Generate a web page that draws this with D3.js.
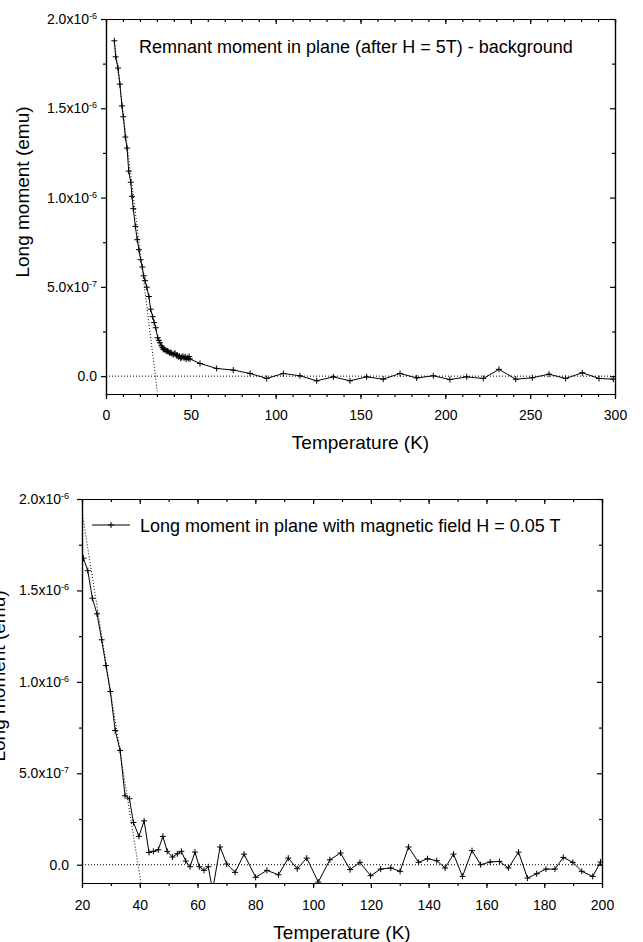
<!DOCTYPE html>
<html>
<head>
<meta charset="utf-8">
<script src="https://cdn.jsdelivr.net/npm/d3@7"></script>
<style>
  body { margin: 0; background: #fff; }
  text { font-family: "Liberation Sans", Arial, sans-serif; }
</style>
</head>
<body>
<div id="chart"></div>
<script>
// moments are in units of 1e-6 emu
const topTemp = [4.9, 5.7, 7.1, 8.2, 9.4, 10.2, 11.4, 12.4, 13.4, 14.6, 15.3, 16.1, 17.3, 18.4, 19.4,
    20.4, 21.4, 22.2, 23.0, 24.0, 25.3, 26.3, 27.5, 28.4, 29.3, 30.5, 31.2, 31.8, 32.6, 33.3, 33.8,
    34.3, 34.8, 35.5, 36.2, 36.7, 37.5, 38.2, 38.7, 39.5, 40.2, 40.7, 41.5, 42.0, 42.6, 43.3, 44.0,
    44.6, 45.3, 46.0, 46.6, 47.2, 47.8, 48.5, 49.0, 49.5, 55.4, 65.2, 75.0, 84.9, 94.7, 104.5, 114.3,
    124.2, 134.0, 143.8, 153.6, 163.4, 173.3, 183.1, 192.9, 202.7, 212.6, 222.4, 231.6, 241.5, 251.3,
    261.1, 270.9, 280.7, 290.6, 299.0];
const topMoment = [1.878, 1.788, 1.725, 1.635, 1.513, 1.453, 1.339, 1.277, 1.148, 1.086, 1.007, 0.938,
    0.839, 0.764, 0.708, 0.652, 0.611, 0.562, 0.535, 0.498, 0.446, 0.375, 0.333, 0.300, 0.271, 0.215,
    0.200, 0.187, 0.170, 0.160, 0.150, 0.152, 0.146, 0.140, 0.142, 0.137, 0.130, 0.133, 0.128, 0.120,
    0.125, 0.128, 0.115, 0.118, 0.108, 0.112, 0.100, 0.105, 0.112, 0.102, 0.108, 0.095, 0.104, 0.099,
    0.110, 0.096, 0.071, 0.043, 0.034, 0.015, -0.013, 0.015, 0.002, -0.026, -0.004, -0.026, -0.004,
    -0.017, 0.015, -0.010, 0.002, -0.019, -0.004, -0.013, 0.038, -0.017, -0.009, 0.011, -0.013, 0.019,
    -0.013, -0.017];
const topFit = [[5.0, 1.87], [30.2, -0.085]];

const botTemp = [20.5, 22.0, 23.6, 25.2, 26.8, 28.3, 29.8, 31.5, 33.2, 34.9, 36.4, 37.8, 39.7, 41.5,
    43.2, 44.7, 46.4, 48.0, 49.5, 51.3, 53.0, 54.4, 55.9, 57.4, 59.1, 60.6, 62.2, 63.7, 65.2, 67.8,
    70.1, 73.0, 76.1, 80.1, 84.0, 88.0, 91.4, 94.5, 97.8, 101.8, 105.8, 109.5, 112.8, 116.2, 119.9,
    123.4, 126.9, 130.1, 133.0, 136.5, 139.6, 142.8, 145.7, 148.6, 151.7, 155.0, 158.0, 161.3, 164.5,
    167.6, 171.1, 174.2, 177.4, 180.6, 183.7, 186.6, 189.9, 193.0, 196.8, 199.5];
const botMoment = [1.676, 1.608, 1.457, 1.372, 1.230, 1.089, 0.947, 0.734, 0.625, 0.377, 0.361, 0.231,
    0.155, 0.240, 0.067, 0.073, 0.082, 0.155, 0.073, 0.042, 0.060, 0.073, 0.020, -0.011, 0.069, -0.011,
    -0.031, -0.011, -0.140, 0.097, 0.004, -0.042, 0.058, -0.069, -0.031, -0.055, 0.036, -0.022, 0.036,
    -0.095, 0.027, 0.064, -0.027, 0.013, -0.060, -0.024, -0.018, -0.036, 0.097, 0.013, 0.033, 0.022,
    -0.018, 0.058, -0.064, 0.077, 0.000, 0.015, 0.018, -0.018, 0.069, -0.073, -0.049, -0.024, -0.024,
    0.040, 0.013, -0.036, -0.064, 0.015];
const botFit = [[20.0, 1.93], [40.4, -0.10]];

const yTicks = [0, 0.5, 1.0, 1.5, 2.0];
const yMinor = [0.25, 0.75, 1.25, 1.75];
const topXTicks = [0, 50, 100, 150, 200, 250, 300];
const botXTicks = [20, 40, 60, 80, 100, 120, 140, 160, 180, 200];

const W = 643, H = 942;
const svg = d3.select("#chart").append("svg").attr("width", W).attr("height", H);

function yLabel(sel, v) {
    sel.text(null);
    if (v === 0) { sel.text("0.0"); return; }
    const exp = v < 1 ? -7 : -6;
    const mant = v < 1 ? v * 10 : v;
    sel.append("tspan").text(mant.toFixed(1) + "x10");
    sel.append("tspan").attr("font-size", 9).attr("dy", "-0.55em").text(exp);
}

function styleAxis(g) {
    g.attr("font-size", 14).attr("font-family", '"Liberation Sans", Arial, sans-serif');
    g.selectAll("line").attr("stroke", "#000").attr("stroke-width", 1.2);
    g.select(".domain").attr("stroke", "#000").attr("stroke-width", 1.2);
    g.selectAll("text").attr("fill", "#000");
}

function drawPanel(p) {
    const x = d3.scaleLinear().domain(p.xDomain).range([p.left, p.right]);
    const y = d3.scaleLinear().domain([-0.1, 2.0]).range([p.bottom, p.top]);
    const g = svg.append("g");

    g.append("clipPath").attr("id", p.id).append("rect")
        .attr("x", p.left).attr("y", p.top)
        .attr("width", p.right - p.left).attr("height", p.bottom - p.top);
    const plot = g.append("g").attr("clip-path", `url(#${p.id})`);

    // zero line
    plot.append("line")
        .attr("x1", x(p.xDomain[0])).attr("x2", x(p.xDomain[1]))
        .attr("y1", y(0)).attr("y2", y(0))
        .attr("stroke", "#000").attr("stroke-width", 1).attr("stroke-dasharray", "1,2");

    // linear extrapolation
    plot.append("path")
        .datum(p.fit)
        .attr("fill", "none").attr("stroke", "#000").attr("stroke-width", 1)
        .attr("stroke-dasharray", "1,2")
        .attr("d", d3.line().x(d => x(d[0])).y(d => y(d[1])));

    const pts = p.temp.map((t, i) => [t, p.moment[i]]);
    plot.append("path")
        .datum(pts)
        .attr("fill", "none").attr("stroke", "#000").attr("stroke-width", 1)
        .attr("d", d3.line().x(d => x(d[0])).y(d => y(d[1])));

    plot.selectAll(".mk")
        .data(pts)
        .enter()
        .append("path")
        .attr("class", "mk")
        .attr("transform", d => `translate(${x(d[0])},${y(d[1])})`)
        .attr("d", "M-3,0H3M0,-3V3")
        .attr("stroke", "#000").attr("stroke-width", 1);

    // axes
    const xMinor = d3.range(p.xDomain[0], p.xDomain[1] + 1, 10);

    g.append("g").attr("transform", `translate(0,${p.bottom})`)
        .call(d3.axisBottom(x).tickValues(xMinor).tickSize(3).tickSizeOuter(0).tickFormat(""))
        .call(styleAxis);
    g.append("g").attr("transform", `translate(0,${p.bottom})`)
        .call(d3.axisBottom(x).tickValues(p.xTicks).tickSize(5).tickSizeOuter(0).tickPadding(p.xPad))
        .call(styleAxis);

    g.append("g").attr("transform", `translate(0,${p.top})`)
        .call(d3.axisTop(x).tickValues(xMinor).tickSize(-3).tickSizeOuter(0).tickFormat(""))
        .call(styleAxis);
    g.append("g").attr("transform", `translate(0,${p.top})`)
        .call(d3.axisTop(x).tickValues(p.xTicks).tickSize(-5).tickSizeOuter(0).tickFormat(""))
        .call(styleAxis);

    g.append("g").attr("transform", `translate(${p.left},0)`)
        .call(d3.axisLeft(y).tickValues(yMinor).tickSize(3).tickSizeOuter(0).tickFormat(""))
        .call(styleAxis);
    g.append("g").attr("transform", `translate(${p.left},0)`)
        .call(d3.axisLeft(y).tickValues(yTicks).tickSize(5).tickSizeOuter(0).tickPadding(p.yPad))
        .call(styleAxis)
        .selectAll(".tick text").each(function (d) { yLabel(d3.select(this), d); });

    g.append("g").attr("transform", `translate(${p.right},0)`)
        .call(d3.axisRight(y).tickValues(yMinor).tickSize(-3).tickSizeOuter(0).tickFormat(""))
        .call(styleAxis);
    g.append("g").attr("transform", `translate(${p.right},0)`)
        .call(d3.axisRight(y).tickValues(yTicks).tickSize(-5).tickSizeOuter(0).tickFormat(""))
        .call(styleAxis);

    // axis titles
    g.append("text")
        .attr("x", (p.left + p.right) / 2)
        .attr("y", p.xTitleY)
        .attr("text-anchor", "middle")
        .style("font-size", "19px")
        .text("Temperature (K)");

    g.append("text")
        .attr("transform", `translate(${p.left - 77},${p.yTitleY}) rotate(-90)`)
        .attr("text-anchor", "middle")
        .style("font-size", "19px")
        .text("Long moment (emu)");

    return { g, x, y };
}

const topPanel = drawPanel({
    id: "clipTop", left: 106, right: 615, top: 19, bottom: 394,
    xDomain: [0, 300], xTicks: topXTicks, xPad: 11, yPad: 4,
    temp: topTemp, moment: topMoment, fit: topFit,
    xTitleY: 449, yTitleY: 192
});

topPanel.g.append("text")
    .attr("x", 139).attr("y", 53)
    .style("font-size", "18px")
    .text("Remnant moment in plane (after H = 5T) - background");

const botPanel = drawPanel({
    id: "clipBot", left: 82, right: 602, top: 499, bottom: 883,
    xDomain: [20, 200], xTicks: botXTicks, xPad: 12, yPad: 8,
    temp: botTemp, moment: botMoment, fit: botFit,
    xTitleY: 939, yTitleY: 676
});

// legend
const leg = botPanel.g.append("g");
leg.append("line")
    .attr("x1", 92).attr("x2", 130).attr("y1", 525).attr("y2", 525)
    .attr("stroke", "#000").attr("stroke-width", 1);
leg.append("path")
    .attr("transform", "translate(111,525)")
    .attr("d", "M-3,0H3M0,-3V3")
    .attr("stroke", "#000").attr("stroke-width", 1);
leg.append("text")
    .attr("x", 140).attr("y", 532)
    .style("font-size", "18px")
    .text("Long moment in plane with magnetic field H = 0.05 T");
</script>
</body>
</html>
